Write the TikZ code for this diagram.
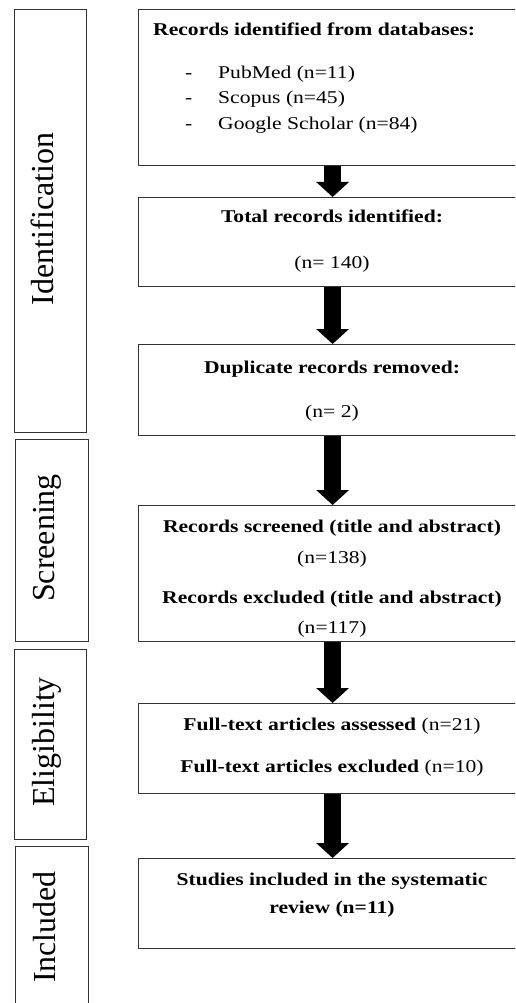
\documentclass[tikz,border=0pt]{standalone}
\usepackage{fontspec}
\setmainfont{Liberation Serif}
\newfontfamily\boxfont[FakeStretch=1.2]{Liberation Serif}
\usetikzlibrary{arrows.meta}
\begin{document}
\begin{tikzpicture}[x=1pt,y=-1pt,
  frame/.style={draw=black!80, line width=1.2pt, inner sep=0pt, anchor=north west},
  stagelbl/.style={rotate=90, anchor=base, font=\fontsize{32}{36}\selectfont, inner sep=0pt},
  txt/.style={anchor=base, inner sep=0pt, font=\boxfont\fontsize{18}{22}\selectfont},
  txtl/.style={txt, anchor=base west},
  bigarrow/.style={line width=17pt, draw=black, -{Triangle[width=32pt,length=15pt]}}]
\useasboundingbox (0,0) rectangle (515,1003);
\clip (0,0) rectangle (515,1003);
% stage boxes
\node[frame, minimum width=72, minimum height=423] (sid) at (14,9) {};
\node[frame, minimum width=73, minimum height=202] (ssc) at (15,439) {};
\node[frame, minimum width=72, minimum height=190] (sel) at (14,649) {};
\node[frame, minimum width=73, minimum height=200] (sin) at (15,846) {};
\node[stagelbl] (lid) at (53,219) {Identification};
\node[stagelbl] (lsc) at (54,538) {Screening};
\node[stagelbl] (lel) at (54,742) {Eligibility};
\node[stagelbl] (lin) at (55,927) {Included};
% flow boxes
\node[frame, minimum width=388, minimum height=156] (b1) at (138,9) {};
\node[frame, minimum width=388, minimum height=89] (b2) at (138,197) {};
\node[frame, minimum width=388, minimum height=91] (b3) at (138,344) {};
\node[frame, minimum width=388, minimum height=136] (b4) at (138,505) {};
\node[frame, minimum width=388, minimum height=90] (b5) at (138,703) {};
\node[frame, minimum width=388, minimum height=90] (b6) at (138,858) {};
% arrows
\draw[bigarrow] (b1.south) -- (b2.north);
\draw[bigarrow] (b2.south) -- (b3.north);
\draw[bigarrow] (b3.south) -- (b4.north);
\draw[bigarrow] (b4.south) -- (b5.north);
\draw[bigarrow] (b5.south) -- (b6.north);
% texts
\node[txtl] (t1) at (153,36) {\bfseries Records identified from databases:};
\node[txtl] (d1) at (185,79) {-};
\node[txtl] (i1) at (218,79) {PubMed (n=11)};
\node[txtl] (d2) at (185,104) {-};
\node[txtl] (i2) at (218,104) {Scopus (n=45)};
\node[txtl] (d3) at (185,130) {-};
\node[txtl] (i3) at (218,130) {Google Scholar (n=84)};
\node[txt] (t2a) at (332,222) {\bfseries Total records identified:};
\node[txt] (t2b) at (332,268) {(n= 140)};
\node[txt] (t3a) at (332,373) {\bfseries Duplicate records removed:};
\node[txt] (t3b) at (332,417) {(n= 2)};
\node[txt] (t4a) at (332,532) {\bfseries Records screened (title and abstract)};
\node[txt] (t4b) at (332,563) {(n=138)};
\node[txt] (t4c) at (332,603) {\bfseries Records excluded (title and abstract)};
\node[txt] (t4d) at (332,633) {(n=117)};
\node[txt] (t5a) at (332,730) {\bfseries Full-text articles assessed \mdseries(n=21)};
\node[txt] (t5b) at (332,772) {\bfseries Full-text articles excluded \mdseries(n=10)};
\node[txt] (t6a) at (332,885) {\bfseries Studies included in the systematic};
\node[txt] (t6b) at (332,913) {\bfseries review (n=11)};
\end{tikzpicture}
\end{document}
